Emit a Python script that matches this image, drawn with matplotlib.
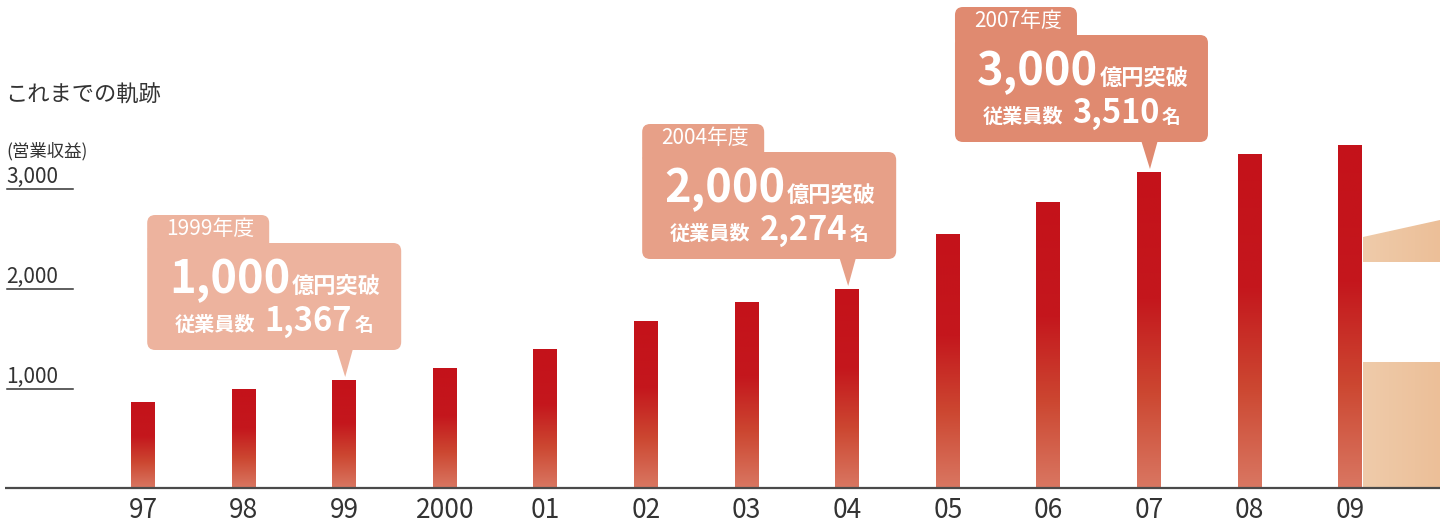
import matplotlib

matplotlib.use("Agg")
import matplotlib.pyplot as plt
import matplotlib.transforms as mtransforms
import numpy as np
from matplotlib.colors import LinearSegmentedColormap
from matplotlib.patches import FancyBboxPatch, Polygon

plt.rcParams["font.family"] = ["Noto Sans CJK JP", "DejaVu Sans"]

# Operating revenue (100M yen) by fiscal year
years = ["97", "98", "99", "2000", "01", "02", "03", "04", "05", "06", "07", "08", "09"]
revenue = [860, 990, 1080, 1200, 1390, 1670, 1860, 1990, 2540, 2860, 3160, 3340, 3430]
y_ticks = [1000, 2000, 3000]
y_tick_labels = ["1,000", "2,000", "3,000"]

# Milestone callouts
callout_idx = [2, 7, 10]
callout_year = ["1999年度", "2004年度", "2007年度"]
callout_amount = ["1,000", "2,000", "3,000"]
callout_staff = ["1,367", "2,274", "3,510"]

# Cut-off peach shapes at the right edge (next period)
edge_x = [12.127, 12.893]
upper_top = [2510, 2680]
upper_bottom = 2260
lower_top = 1260

TEXT = "#333333"
BAR_CMAP = LinearSegmentedColormap.from_list(
    "bar", [(0.0, "#D97762"), (0.3, "#CC4731"), (0.6, "#C4171D"), (1.0, "#C4121A")]
)
PEACH_CMAP = LinearSegmentedColormap.from_list("peach", ["#EFCBAA", "#ECBF98"])
CALLOUT_COLORS = ["#EDB39E", "#E7A088", "#E08A70"]
# box left/right offsets from the pointer tip, in pixels
BOX_LEFT = [-197, -205, -194]
BOX_RIGHT = [57, 49, 59]

fig = plt.figure(figsize=(14.4, 5.28), dpi=100)
ax = fig.add_axes([0, 0, 1, 1])
ax.axis("off")

PX = 100.6  # pixels per category step
bar_w = 24 / PX


def px_x(p):
    return -1.4215 + p / PX


# Bars with a vertical red -> orange gradient
grad = np.linspace(0, 1, 256).reshape(-1, 1)
for i, v in enumerate(revenue):
    ax.imshow(grad, cmap=BAR_CMAP, origin="lower", aspect="auto",
              extent=[i - bar_w / 2, i + bar_w / 2, 0, v], zorder=3, interpolation="bilinear")

# Peach shapes at the right edge (horizontal gradient, clipped to polygons)
hgrad = np.linspace(0, 1, 256).reshape(1, -1)
for verts in (
    [(edge_x[0], upper_bottom), (edge_x[0], upper_top[0]), (edge_x[1], upper_top[1]), (edge_x[1], upper_bottom)],
    [(edge_x[0], 0), (edge_x[0], lower_top), (edge_x[1], lower_top), (edge_x[1], 0)],
):
    poly = Polygon(verts, closed=True, facecolor="none", edgecolor="none")
    ax.add_patch(poly)
    ys = [p[1] for p in verts]
    im = ax.imshow(hgrad, cmap=PEACH_CMAP, aspect="auto", interpolation="bilinear",
                   extent=[edge_x[0], edge_x[1], min(ys), max(ys)], zorder=2)
    im.set_clip_path(poly)

ax.set_xlim(-1.4215, 12.893)
ax.set_ylim(-400, 4880)

# Baseline
ax.plot([px_x(5), 12.893], [0, 0], color="#4a4a4a", lw=1.6, zorder=4, solid_capstyle="butt")

# Category labels
for i, lab in enumerate(years):
    ax.text(i, -225, lab, ha="center", va="center", fontsize=19, color=TEXT)

# Y labels with short underlines
for v, lab in zip(y_ticks, y_tick_labels):
    ax.plot([px_x(7), px_x(73)], [v - 10, v - 10], color=TEXT, lw=1.1)
    ax.text(px_x(6), v + 0, lab, ha="left", va="bottom", fontsize=15, color=TEXT)

ax.text(px_x(6), (488 - 151) * 10, "(営業収益)", ha="left", va="center", fontsize=12.5, color=TEXT)
ax.text(px_x(5), (488 - 95) * 10, "これまでの軌跡", ha="left", va="center", fontsize=16, color=TEXT)

# Callouts drawn in pixel space, anchored to the bar tops
ident = mtransforms.IdentityTransform()
for k, idx in enumerate(callout_idx):
    tx, ty = ax.transData.transform((idx, revenue[idx]))
    tip_y = ty + 3
    bb = tip_y + 27
    bt = bb + 107
    bl = tx + BOX_LEFT[k]
    br = tx + BOX_RIGHT[k]
    col = CALLOUT_COLORS[k]
    box = FancyBboxPatch((bl, bb), br - bl, bt - bb, boxstyle="round,pad=0,rounding_size=8",
                         transform=ident, facecolor=col, edgecolor="none", zorder=5)
    tab = FancyBboxPatch((bl, bt - 12), 122, 40, boxstyle="round,pad=0,rounding_size=8",
                         transform=ident, facecolor=col, edgecolor="none", zorder=5)
    ptr = Polygon([(tx - 8, bb + 2), (tx + 9, bb + 2), (tx + 1, tip_y)], closed=True,
                  transform=ident, facecolor=col, edgecolor="none", zorder=5)
    for p in (box, tab, ptr):
        fig.add_artist(p)

    kw = dict(transform=ident, color="white", zorder=6)
    fig.text(bl + 19, bt + 14, callout_year[k], ha="left", va="center", fontsize=15, **kw)
    fig.text(bl + 143, bt - 50, callout_amount[k], ha="right", va="baseline",
             fontsize=32.5, fontweight="bold", **kw)
    fig.text(bl + 145, bt - 50, "億円突破", ha="left", va="baseline", fontsize=16,
             fontweight="bold", **kw)
    fig.text(bl + 28, bt - 88, "従業員数", ha="left", va="baseline", fontsize=14.5,
             fontweight="bold", **kw)
    fig.text(bl + 205, bt - 88, callout_staff[k], ha="right", va="baseline", fontsize=23.5,
             fontweight="bold", **kw)
    fig.text(bl + 207, bt - 88, "名", ha="left", va="baseline", fontsize=13.5,
             fontweight="bold", **kw)

fig.savefig("out.png", dpi=100)
